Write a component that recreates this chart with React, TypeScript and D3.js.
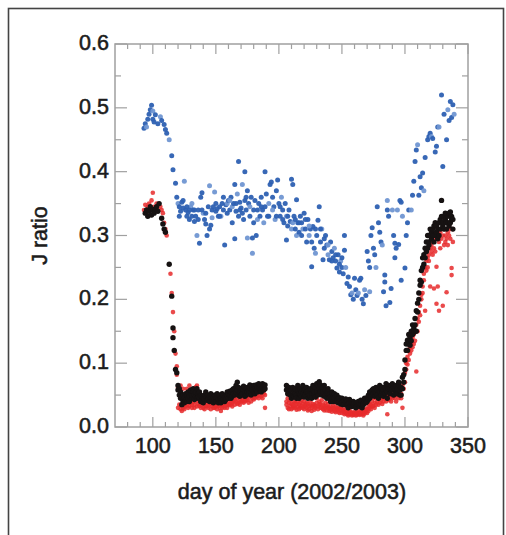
import React from "react";
import * as d3 from "d3";

// ---- data (day of year, J ratio) ----
const blueData: [number, number][] = [
[93,.468],[94,.475],[95,.47],[96,.482],[97,.49],[98,.497],[99,.504],[100,.495],[100,.482],[101,.478],[102,.489],[104,.475],[106,.486],[107,.48],[109,.474],[110,.466],[111,.46],
[113,.45],[115,.425],[116,.403],[118,.382],[119,.36],[120,.35],[121,.345],[122,.338],[123,.352],[124,.343],[125,.385],[126,.34],[127,.33],[128,.336],[129,.325],[130,.345],[131,.33],[132,.34],[133,.322],[134,.33],[135,.3],[136,.34],[137,.288],[138,.36],[139,.367],[140,.335],[141,.325],[142,.318],[143,.3],[144,.345],[145,.378],[145,.31],[146,.316],[147,.34],[148,.345],[149,.368],[150,.338],[151,.342],[152,.33],[153,.345],[154,.33],[155,.35],[156,.34],[157,.285],[158,.348],[159,.35],[160,.355],[161,.34],[162,.36],[163,.32],[163,.345],[164,.35],[165,.295],[165,.38],[166,.338],[167,.365],[168,.416],[168,.33],[169,.352],[170,.343],[171,.38],[172,.325],[173,.4],[173,.355],[174,.34],[175,.296],[175,.37],[176,.35],[177,.33],[178,.36],[179,.272],[179,.296],[180,.34],[181,.355],[182,.3],[183,.325],[184,.35],[185,.33],[186,.36],[187,.34],[188,.32],[189,.4],[189,.345],[190,.365],[191,.33],[192,.35],[193,.38],[194,.384],[195,.36],[196,.345],[197,.325],[198,.37],[199,.387],[200,.35],[201,.33],[202,.36],[203,.34],[204,.32],[205,.35],[206,.293],[206,.33],[207,.315],[208,.34],[209,.322],[210,.388],[210,.31],[211,.38],[212,.33],[213,.31],[214,.356],[214,.3],[215,.32],[216,.305],[217,.33],[218,.32],[219,.31],[220,.335],[221,.31],[222,.29],[223,.325],[224,.3],[225,.31],[226,.251],[227,.314],[228,.28],[229,.272],[230,.3],[231,.324],[232,.345],[233,.29],[234,.31],[235,.262],[236,.28],[237,.3],[238,.285],[239,.27],[240,.262],[241,.29],[242,.275],[243,.265],[244,.28],[245,.26],[246,.249],[247,.27],[248,.243],[249,.26],[250,.25],[251,.24],[252,.3],[252,.277],[253,.25],[254,.225],[255,.235],[256,.22],[257,.207],[258,.21],[259,.2],[260,.233],[261,.215],[262,.206],[263,.21],[264,.23],[265,.233],[266,.2],[267,.193],[268,.215],[269,.206],[270,.275],[271,.26],[272,.25],[272,.212],[273,.3],[274,.312],[275,.28],[276,.27],[277,.25],[278,.345],[279,.32],[280,.305],[281,.29],[282,.285],[283,.212],[284,.238],[284,.227],[285,.19],[286,.355],[286,.34],[287,.33],[288,.195],[289,.217],[290,.34],[291,.3],[292,.288],[292,.265],[293,.28],[294,.34],[295,.286],[296,.355],[297,.23],[297,.352],[298,.33],[300,.249],[301,.3],[302,.32],[303,.34],[305,.34],[306,.363],[307,.385],[308,.416],[309,.434],[310,.442],[311,.363],[312,.392],[313,.375],[314,.398],[315,.37],[316,.422],[318,.45],[319,.455],[320,.46],[321,.455],[322,.452],[324,.431],[325,.44],[326,.47],[327,.47],[329,.52],[330,.408],[331,.49],[333,.45],[334,.497],[335,.48],[336,.51],[337,.485],[338,.505],[339,.49],
[121,.33],[124,.355],[127,.345],[129,.34],[131,.35],[133,.34],[136,.325],[139,.34],[142,.335],[147,.328],[150,.35],[153,.33],[156,.36],[159,.335],[161,.355],[166,.35],[169,.34],[171,.335],[174,.36],[177,.345],[180,.32],[183,.34],[186,.345],[192,.33],[195,.34],[198,.33],[201,.345],[203,.325],[207,.33],[211,.32],[213,.325],[216,.32],[218,.3],[221,.325],[224,.315],[226,.29],[229,.31],[233,.31],[236,.295],[239,.285],[242,.26],[245,.27],[248,.255],[250,.265]
];

const blackData: [number, number][] = [
[94,.335],[95,.34],[96,.33],[97,.338],[98,.345],[99,.332],[100,.34],[101,.335],[102,.342],[103,.345],[104,.338],[105,.35],[107,.327],[108,.318],[109,.31],[110,.305],[113,.255],[115,.205],[116,.155],[116,.14],[117,.12],[118,.09],[119,.085],
[120,.065],[120,.058],[121,.06],[121,.05],[122,.055],[122,.045],[123,.048],[123,.035],[124,.04],[124,.05],[125,.038],[125,.045],[126,.042],[126,.052],[127,.05],[127,.04],[128,.055],[128,.045],[129,.048],[129,.04],[130,.052],[130,.058],[131,.045],[131,.05],[132,.055],[132,.06],[133,.05],[133,.043],[134,.048],[134,.055],[135,.06],[135,.045],[136,.052],[136,.047],[137,.045],[137,.055],[138,.05],[138,.04],[139,.042],[139,.048],[140,.046],[140,.038],[141,.05],[141,.044],[142,.055],[142,.048],[143,.05],[143,.042],[144,.045],[144,.05],[145,.04],[145,.048],[146,.047],[146,.052],[147,.042],[147,.05],[148,.038],[148,.045],[149,.044],[149,.05],[150,.04],[150,.047],[151,.046],[151,.052],[152,.043],[152,.038],[153,.05],[153,.041],[154,.045],[154,.038],[155,.047],[155,.052],[156,.044],[156,.05],[157,.04],[157,.046],[158,.05],[158,.043],[159,.048],[159,.055],[160,.045],[160,.052],[161,.05],[161,.056],[162,.055],[162,.045],[163,.048],[163,.058],[164,.052],[164,.06],[165,.06],[165,.05],[166,.065],[166,.055],[167,.07],[167,.058],[168,.062],[168,.05],[169,.055],[169,.048],[170,.05],[170,.058],[171,.052],[171,.06],[172,.058],[172,.064],[173,.055],[173,.048],[174,.05],[174,.06],[175,.062],[175,.055],[176,.058],[176,.052],[177,.06],[177,.066],[178,.055],[178,.05],[179,.062],[179,.058],[180,.065],[180,.055],[181,.06],[181,.052],[182,.058],[182,.066],[183,.062],[183,.055],[184,.068],[184,.06],[185,.065],[185,.058],[186,.06],[186,.055],[187,.068],[187,.062],[188,.064],[188,.058],[189,.06],[189,.066],
[206,.065],[206,.058],[207,.06],[207,.052],[208,.055],[208,.062],[209,.05],[209,.058],[210,.058],[210,.045],[211,.062],[211,.05],[212,.055],[212,.048],[213,.06],[213,.052],[214,.05],[214,.045],[215,.058],[215,.065],[216,.052],[216,.045],[217,.06],[217,.05],[218,.055],[218,.048],[219,.065],[219,.052],[220,.058],[220,.047],[221,.05],[221,.06],[222,.062],[222,.055],[223,.055],[223,.045],[224,.05],[224,.058],[225,.06],[225,.048],[226,.052],[226,.045],[227,.058],[227,.065],[228,.05],[228,.055],[229,.062],[229,.047],[230,.068],[230,.055],[231,.065],[231,.05],[232,.071],[232,.06],[233,.066],[233,.055],[234,.06],[234,.05],[235,.055],[235,.062],[236,.065],[236,.048],[237,.058],[237,.05],[238,.052],[238,.045],[239,.055],[239,.06],[240,.05],[240,.045],[241,.048],[241,.04],[242,.055],[242,.045],[243,.047],[243,.04],[244,.045],[244,.052],[245,.04],[245,.048],[246,.05],[246,.042],[247,.045],[247,.038],[248,.04],[248,.046],[249,.042],[249,.036],[250,.038],[250,.045],[251,.04],[251,.035],[252,.036],[252,.042],[253,.044],[253,.038],[254,.04],[254,.034],[255,.036],[255,.03],[256,.038],[256,.043],[257,.035],[257,.04],[258,.032],[258,.038],[259,.04],[259,.036],[260,.034],[260,.038],[261,.036],[261,.03],[262,.038],[262,.033],[263,.035],[263,.04],[264,.032],[264,.037],[265,.036],[265,.042],[266,.034],[266,.03],[267,.038],[267,.035],[268,.04],[268,.045],[269,.044],[269,.038],[270,.046],[270,.04],[271,.05],[271,.043],[272,.045],[272,.055],[273,.055],[273,.048],[274,.05],[274,.058],[275,.06],[275,.052],[276,.048],[276,.055],[277,.055],[277,.062],[278,.05],[278,.058],[279,.06],[279,.045],[280,.065],[280,.055],[281,.06],[281,.05],[282,.055],[282,.062],[283,.058],[283,.048],[284,.062],[284,.052],[285,.068],[285,.058],[286,.055],[286,.045],[287,.065],[287,.06],[288,.06],[288,.052],[289,.058],[289,.065],[290,.068],[290,.06],[291,.062],[291,.05],[292,.055],[292,.06],[293,.065],[293,.058],[294,.06],[294,.052],[295,.066],[295,.07],[296,.058],[296,.05],[297,.05],[297,.062],[298,.078],[298,.06],[299,.082],[299,.07],
[300,.105],[300,.09],[301,.12],[301,.13],[302,.136],[302,.12],[303,.13],[303,.145],[304,.14],[304,.128],[305,.15],[305,.135],[306,.16],[306,.145],[307,.155],[307,.148],[308,.17],[308,.16],[309,.182],[309,.15],[310,.194],[310,.18],[311,.2],[311,.21],[312,.222],[312,.23],[313,.245],[313,.227],[314,.25],[314,.265],[315,.27],[315,.255],[316,.28],[316,.265],[317,.29],[317,.275],[318,.3],[318,.28],[319,.285],[319,.29],[320,.3],[320,.31],[321,.295],[321,.305],[322,.31],[322,.3],[323,.29],[323,.315],[324,.32],[324,.3],[325,.305],[325,.315],[326,.31],[326,.295],[327,.32],[327,.3],[328,.325],[328,.31],[329,.355],[329,.33],[330,.315],[330,.32],[331,.33],[331,.31],[332,.325],[332,.335],[333,.32],[333,.31],[334,.33],[334,.32],[335,.335],[335,.315],[336,.337],[336,.32],[337,.33],[337,.325],[338,.325],[338,.31]
];

const redData: [number, number][] = [
[93,.34],[94,.348],[95,.335],[96,.345],[97,.35],[98,.342],[99,.355],[100,.367],[101,.345],[102,.338],[103,.35],[104,.34],[106,.345],[107,.34],[108,.335],[109,.32],[110,.31],[111,.3],[114,.24],[115,.21],[116,.18],[117,.15],[118,.115],[119,.095],[119,.082],
[120,.062],[120,.03],[121,.058],[121,.035],[122,.065],[122,.028],[123,.05],[123,.025],[124,.03],[124,.06],[125,.028],[125,.035],[126,.045],[126,.032],[127,.035],[127,.06],[128,.04],[128,.03],[129,.065],[129,.033],[130,.038],[130,.045],[131,.03],[131,.035],[132,.04],[132,.055],[133,.035],[133,.03],[134,.062],[134,.04],[135,.065],[135,.032],[136,.045],[136,.036],[137,.033],[137,.04],[138,.038],[138,.03],[139,.035],[139,.045],[140,.03],[140,.04],[141,.036],[141,.028],[142,.04],[142,.033],[143,.032],[143,.045],[144,.038],[144,.03],[145,.035],[145,.042],[146,.028],[146,.036],[147,.033],[147,.04],[148,.03],[148,.038],[149,.036],[149,.03],[150,.032],[150,.04],[151,.028],[151,.035],[152,.033],[152,.045],[153,.03],[153,.038],[154,.025],[154,.035],[155,.035],[155,.03],[156,.04],[156,.032],[157,.03],[157,.036],[158,.038],[158,.045],[159,.035],[159,.03],[160,.04],[160,.034],[161,.036],[161,.045],[162,.042],[162,.035],[163,.038],[163,.032],[164,.045],[164,.04],[165,.035],[165,.042],[166,.04],[166,.048],[167,.045],[167,.036],[168,.038],[168,.05],[169,.042],[169,.035],[170,.048],[170,.04],[171,.04],[171,.045],[172,.038],[172,.05],[173,.045],[173,.04],[174,.05],[174,.042],[175,.042],[175,.048],[176,.045],[176,.038],[177,.05],[177,.055],[178,.048],[178,.04],[179,.055],[179,.045],[180,.05],[180,.043],[181,.045],[181,.055],[182,.052],[182,.048],[183,.048],[183,.058],[184,.055],[184,.045],[185,.05],[185,.06],[186,.058],[186,.048],[187,.045],[187,.055],[188,.052],[188,.06],[189,.03],[189,.05],
[206,.035],[206,.04],[207,.03],[207,.045],[208,.038],[208,.028],[209,.033],[209,.042],[210,.028],[210,.036],[211,.035],[211,.03],[212,.04],[212,.032],[213,.03],[213,.038],[214,.036],[214,.027],[215,.032],[215,.04],[216,.028],[216,.035],[217,.038],[217,.03],[218,.033],[218,.042],[219,.03],[219,.036],[220,.04],[220,.028],[221,.035],[221,.032],[222,.03],[222,.038],[223,.036],[223,.026],[224,.028],[224,.033],[225,.034],[225,.04],[226,.03],[226,.025],[227,.036],[227,.032],[228,.027],[228,.035],[229,.033],[229,.03],[230,.038],[230,.045],[231,.032],[231,.028],[232,.04],[232,.035],[233,.036],[233,.03],[234,.03],[234,.042],[235,.028],[235,.035],[236,.033],[236,.026],[237,.038],[237,.03],[238,.026],[238,.032],[239,.03],[239,.036],[240,.025],[240,.03],[241,.032],[241,.027],[242,.028],[242,.024],[243,.03],[243,.035],[244,.025],[244,.028],[245,.032],[245,.023],[246,.027],[246,.03],[247,.024],[247,.028],[248,.03],[248,.022],[249,.026],[249,.03],[250,.022],[250,.028],[251,.027],[251,.024],[252,.024],[252,.02],[253,.028],[253,.022],[254,.02],[254,.025],[255,.023],[255,.018],[256,.026],[256,.02],[257,.02],[257,.024],[258,.018],[258,.022],[259,.022],[259,.019],[260,.02],[260,.024],[261,.018],[261,.022],[262,.023],[262,.019],[263,.021],[263,.025],[264,.019],[264,.022],[265,.024],[265,.02],[266,.02],[266,.026],[267,.022],[267,.018],[268,.026],[268,.021],[269,.024],[269,.028],[270,.028],[270,.022],[271,.032],[271,.025],[272,.03],[272,.036],[273,.035],[273,.028],[274,.04],[274,.032],[275,.033],[275,.045],[276,.038],[276,.03],[277,.045],[277,.035],[278,.04],[278,.05],[279,.035],[279,.045],[280,.048],[280,.038],[281,.042],[281,.05],[282,.036],[282,.045],[283,.05],[283,.04],[284,.045],[284,.055],[285,.04],[285,.05],[286,.02],[286,.048],[287,.05],[287,.042],[288,.045],[288,.055],[289,.04],[289,.05],[290,.055],[290,.045],[291,.048],[291,.06],[292,.045],[292,.05],[293,.055],[293,.04],[294,.05],[294,.058],[295,.045],[295,.055],[296,.06],[296,.05],[297,.052],[297,.045],[298,.03],[298,.065],[299,.07],[299,.06],
[300,.085],[300,.07],[301,.1],[301,.09],[302,.11],[302,.098],[303,.12],[303,.105],[304,.115],[304,.125],[305,.13],[305,.12],[306,.14],[306,.125],[307,.13],[307,.145],[308,.15],[308,.135],[309,.16],[309,.087],[310,.17],[310,.15],[311,.18],[311,.165],[312,.19],[312,.175],[313,.207],[313,.2],[314,.22],[314,.21],[315,.24],[315,.23],[316,.25],[316,.182],[317,.26],[317,.245],[318,.265],[318,.25],[319,.27],[319,.26],[320,.28],[320,.22],[321,.275],[321,.285],[322,.29],[322,.27],[323,.28],[323,.217],[324,.295],[324,.275],[325,.251],[325,.193],[326,.22],[326,.3],[327,.29],[327,.182],[328,.305],[328,.28],[329,.295],[329,.31],[330,.19],[330,.3],[331,.285],[331,.31],[332,.3],[332,.29],[333,.211],[333,.295],[334,.305],[334,.285],[335,.3],[335,.315],[336,.31],[336,.295],[337,.238],[337,.249],[338,.31],[338,.29]
];

const xTicks = [100, 150, 200, 250, 300, 350];
const yTicks = [0, 0.1, 0.2, 0.3, 0.4, 0.5, 0.6];
const xLabel = "day of year (2002/2003)";
const yLabel = "J ratio";

const W = 506, H = 535;
const M = { left: 115, right: 468, top: 44, bottom: 427 };

export default function App() {
  const x = d3.scaleLinear().domain([70, 350]).range([M.left, M.right]);
  const y = d3.scaleLinear().domain([0, 0.6]).range([M.bottom, M.top]);
  const xMinor = d3.range(80, 350, 10).filter((v) => v % 50 !== 0);
  const yMinor = d3.range(0.05, 0.6, 0.1);
  const axisColor = "#a0a0a0";
  const font = "'Liberation Sans', Arial, Helvetica, sans-serif";
  const txt = { fontFamily: font, fill: "#1c1c1c", stroke: "#1c1c1c", strokeWidth: 0.55 };
  return (
    <svg width={W} height={H} style={{ position: "absolute", left: 0, top: 0, background: "#fff" }}>
      <rect x={0} y={0} width={W} height={H} fill="#fff" />
      <rect x={8.5} y={8.5} width={495} height={540} fill="none" stroke="#444" strokeWidth={1.6} />
      {/* data */}
      <g>
        {blueData.map((d, i) => (
          <circle key={"b" + i} cx={x(d[0])} cy={y(d[1])} r={2.5} fill={i % 5 === 2 ? "#7096d2" : "#2d60b2"} opacity={0.95} />
        ))}
        {redData.map((d, i) => (
          <circle key={"r" + i} cx={x(d[0])} cy={y(d[1])} r={2.3} fill="#e62a2c" opacity={0.85} />
        ))}
        {blackData.map((d, i) => (
          <circle key={"k" + i} cx={x(d[0])} cy={y(d[1])} r={2.7} fill="#161212" />
        ))}
      </g>
      {/* frame */}
      <rect x={M.left} y={M.top} width={M.right - M.left} height={M.bottom - M.top} fill="none" stroke={axisColor} strokeWidth={1.5} />
      {xTicks.map((t) => (
        <g key={"xt" + t}>
          <line x1={x(t)} x2={x(t)} y1={M.bottom} y2={M.bottom - 10} stroke={axisColor} strokeWidth={1.2} />
          <line x1={x(t)} x2={x(t)} y1={M.top} y2={M.top + 10} stroke={axisColor} strokeWidth={1.2} />
          <text x={x(t)} y={M.bottom + 26} textAnchor="middle" fontSize={21.5} {...txt}>{t}</text>
        </g>
      ))}
      {xMinor.map((t) => (
        <g key={"xm" + t}>
          <line x1={x(t)} x2={x(t)} y1={M.bottom} y2={M.bottom - 5} stroke={axisColor} strokeWidth={1.2} />
          <line x1={x(t)} x2={x(t)} y1={M.top} y2={M.top + 5} stroke={axisColor} strokeWidth={1.2} />
        </g>
      ))}
      {yTicks.map((t) => (
        <g key={"yt" + t}>
          <line x1={M.left} x2={M.left + 12} y1={y(t)} y2={y(t)} stroke={axisColor} strokeWidth={1.2} />
          <line x1={M.right} x2={M.right - 12} y1={y(t)} y2={y(t)} stroke={axisColor} strokeWidth={1.2} />
          <text x={109} y={y(t) + 6} textAnchor="end" fontSize={21.5} {...txt}>{t.toFixed(1)}</text>
        </g>
      ))}
      {yMinor.map((t) => (
        <g key={"ym" + t}>
          <line x1={M.left} x2={M.left + 6} y1={y(t)} y2={y(t)} stroke={axisColor} strokeWidth={1.2} />
          <line x1={M.right} x2={M.right - 6} y1={y(t)} y2={y(t)} stroke={axisColor} strokeWidth={1.2} />
        </g>
      ))}
      <text x={292} y={499} textAnchor="middle" fontSize={21.5} {...txt}>{xLabel}</text>
      <text transform={`translate(47,${(M.top + M.bottom) / 2}) rotate(-90)`} textAnchor="middle" fontSize={21.5} {...txt}>{yLabel}</text>
    </svg>
  );
}
